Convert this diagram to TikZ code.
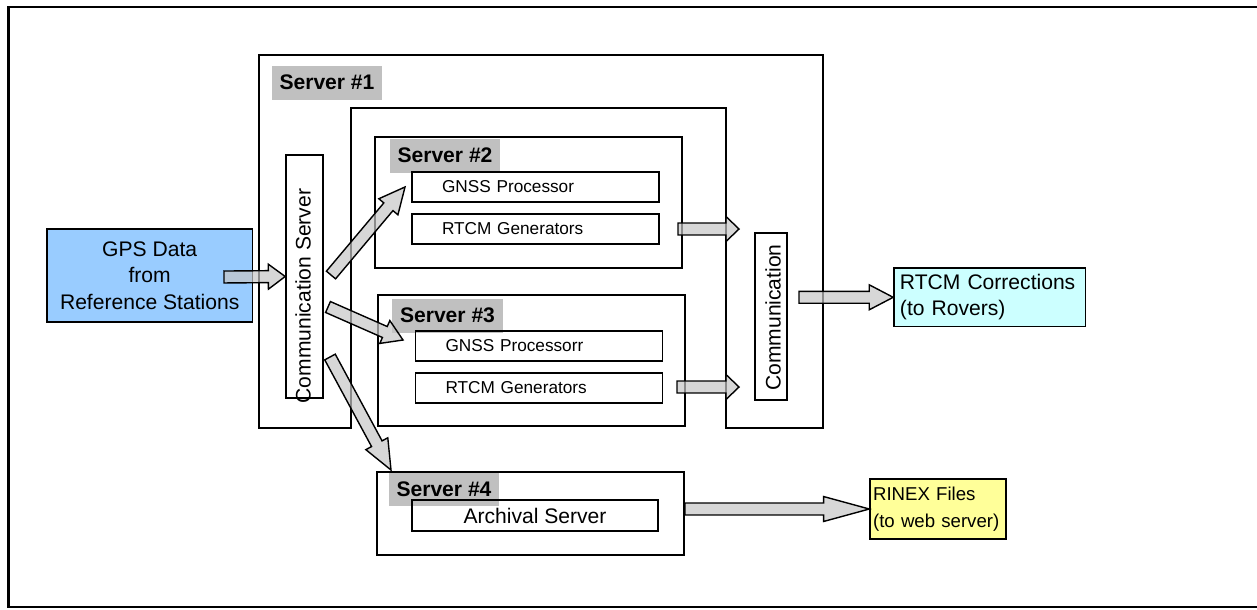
\documentclass[tikz,border=0pt]{standalone}
\usepackage{fontspec}
\setmainfont{Liberation Sans}
\usetikzlibrary{calc,positioning}

\definecolor{gpsblue}{HTML}{99CCFF}
\definecolor{corrcyan}{HTML}{CCFFFF}
\definecolor{rinexyellow}{HTML}{FFFF99}
\definecolor{tabgray}{HTML}{C0C0C0}

% fat block arrow: [head length]{tail}{tip}
\newcommand{\fatarrow}[3][9.6pt]{%
  \coordinate (fa-base) at ($(#3)!#1!(#2)$);
  \filldraw[blockarrow] ($(#2)!3.4pt!90:(#3)$) -- ($(fa-base)!3.4pt!-90:(#2)$)
    -- ($(fa-base)!7.1pt!-90:(#2)$) -- (#3) -- ($(fa-base)!7.1pt!90:(#2)$)
    -- ($(fa-base)!3.4pt!90:(#2)$) -- ($(#2)!3.4pt!-90:(#3)$) -- cycle;
}

\begin{document}
\begin{tikzpicture}[x=0.02cm, y=-0.02cm,
  box/.style={draw, line width=0.9pt, inner sep=0pt},
  srvbox/.style={box, minimum width=6.14cm},
  tab/.style={fill=tabgray, inner sep=0pt, minimum width=2.22cm, minimum height=0.68cm,
    font=\bfseries\fontsize{12}{14}\selectfont},
  unit/.style={box, minimum height=0.6cm, inner xsep=0.6cm, text width=3.74cm, align=left,
    font=\fontsize{9.8}{12}\selectfont},
  note/.style={box, align=left, font=\fontsize{12}{15}\selectfont},
  vtext/.style={rotate=90, inner sep=0pt, font=\fontsize{12}{14}\selectfont},
  blockarrow/.style={draw, line width=0.8pt, fill=gray!45, fill opacity=0.7, line join=miter}]

\useasboundingbox (0,0) rectangle (1257,609);
\draw[line width=1.3pt] (1265,7) -- (8.5,7) -- (8.5,607) -- (1265,607);

% inputs and outputs
\node[note, fill=gpsblue, align=center, minimum width=4.12cm, minimum height=1.854cm]
  (gps) at (149.7,275.4) {GPS Data\\from\\Reference Stations};
\node[note, fill=corrcyan, minimum width=3.834cm, minimum height=1.174cm,
  inner xsep=0.12cm, text width=3.594cm] (rtcmcorr) at (989.8,297.3) {RTCM Corrections\\(to Rovers)};
\node[note, fill=rinexyellow, minimum width=2.714cm, minimum height=1.2cm,
  inner xsep=0.06cm, text width=2.594cm, font=\fontsize{10.6}{15}\selectfont]
  (rinex) at (937.9,509) {RINEX Files\\(to web server)};

% server tabs
\node[tab] (tab1) at (327,82.5) {Server \#1};
\node[tab] (tab2) at (445,155.5) {Server \#2};
\node[tab] (tab3) at (447.5,315.5) {Server \#3};
\node[tab] (tab4) at (444,489) {Server \#4};

% server #1 frame
\draw[line width=0.9pt] (351,428) -- (259,428) -- (259,55) -- (823,55) -- (823,428)
  -- (726,428) -- (726,108) -- (351,108) -- cycle;

\node[srvbox, minimum height=2.62cm] (srv2) at (528.5,202.5) {};
\node[srvbox, minimum height=2.62cm] (srv3) at (531.5,360.5) {};
\node[srvbox, minimum height=1.66cm] (srv4) at (530.5,513.5) {};

\node[unit] (gnss2) at (535.5,187) {GNSS Processor};
\node[unit] (rtcm2) at (535.5,229) {RTCM Generators};
\node[unit] (gnss3) at (539,346) {GNSS Processorr};
\node[unit] (rtcm3) at (539,388) {RTCM Generators};
\node[box, minimum width=4.92cm, minimum height=0.62cm, font=\fontsize{12}{14}\selectfont]
  (archive) at (535,515.5) {Archival Server};

\node[box, minimum width=0.74cm, minimum height=4.86cm] (commsrv) at (304.5,276.5) {};
\node[vtext] (commsrvtxt) at (303,296) {Communication Server};
\node[box, minimum width=0.646cm, minimum height=3.346cm] (comm) at (771,316.4) {};
\node[vtext] (commtxt) at (773,317.5) {Communication};

% arrow ends
\coordinate (gpsout) at (224,277);
\coordinate (csout2) at (331,275);
\coordinate (csin2) at (405,187);
\coordinate (csout3) at (328,307);
\coordinate (csin3) at (403,340);
\coordinate (csout4) at (330,357);
\coordinate (csin4) at (391,470);
\coordinate (srvout2) at (678,229);
\coordinate (commin2) at (739,229);
\coordinate (srvout3) at (677,387);
\coordinate (commin3) at (739,387);
\coordinate (commout) at (799,297.3);
\coordinate (srvout4) at (685,509);

\foreach \from/\to/\head in {gpsout/commsrv.west/9.6pt, csout2/csin2/14.7pt,
  csout3/csin3/11.3pt, csout4/csin4/17pt, srvout2/commin2/7.4pt,
  srvout3/commin3/7.4pt, commout/rtcmcorr.west/13.6pt, srvout4/rinex.west/26pt}
  \fatarrow[\head]{\from}{\to};

\end{tikzpicture}
\end{document}
